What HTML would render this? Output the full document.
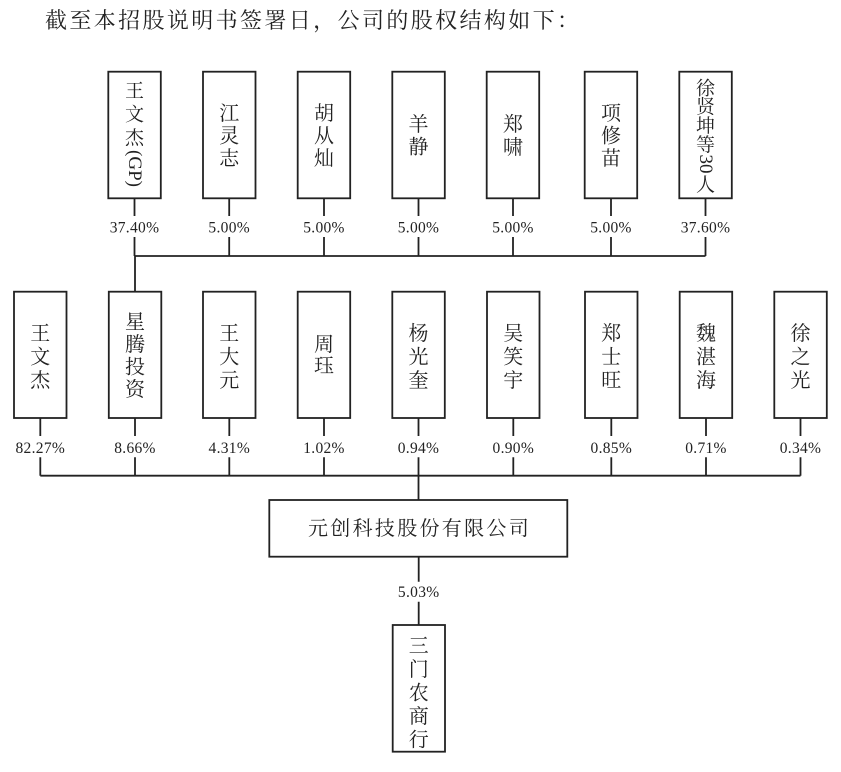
<!DOCTYPE html>
<html>
<head>
<meta charset="utf-8">
<style>
html,body{margin:0;padding:0;background:#fff;}
svg{display:block;}
.h{font-family:"Liberation Serif","Noto Serif CJK SC",serif;font-size:22px;fill:#222;}
.c{font-family:"Liberation Serif","Noto Serif CJK SC",serif;font-size:20px;fill:#222;text-anchor:middle;}
.s{font-family:"Liberation Serif","Noto Serif CJK SC",serif;font-size:19px;fill:#222;text-anchor:middle;}
.p{font-family:"Liberation Serif",serif;font-size:15.5px;fill:#222;text-anchor:middle;letter-spacing:0.3px;}
.r{font-family:"Liberation Serif",serif;font-size:19px;fill:#222;text-anchor:middle;dominant-baseline:central;}
</style>
</head>
<body>
<svg width="841" height="772" viewBox="0 0 841 772" xmlns="http://www.w3.org/2000/svg">
<text class="h" x="45" y="28" textLength="534" lengthAdjust="spacing">截至本招股说明书签署日，公司的股权结构如下：</text>

<g fill="none" stroke="#222" stroke-width="1.8">
<rect x="108.3" y="71.7" width="52.5" height="126.6"/>
<rect x="203" y="71.7" width="52.5" height="126.6"/>
<rect x="297.7" y="71.7" width="52.5" height="126.6"/>
<rect x="392.3" y="71.7" width="52.5" height="126.6"/>
<rect x="486.7" y="71.7" width="52.5" height="126.6"/>
<rect x="584.7" y="71.7" width="52.5" height="126.6"/>
<rect x="679.3" y="71.7" width="52.5" height="126.6"/>
<path d="M134.5 198.3V216M134.5 237V256M229.2 198.3V216M229.2 237V256M324 198.3V216M324 237V256M418.5 198.3V216M418.5 237V256M513 198.3V216M513 237V256M611 198.3V216M611 237V256M705.5 198.3V216M705.5 237V256"/>
<path d="M134.5 256H705.5M135 256V291.7"/>
<rect x="14" y="291.7" width="52.5" height="126.3"/>
<rect x="108.8" y="291.7" width="52.5" height="126.3"/>
<rect x="203" y="291.7" width="52.5" height="126.3"/>
<rect x="297.7" y="291.7" width="52.5" height="126.3"/>
<rect x="392.3" y="291.7" width="52.5" height="126.3"/>
<rect x="487" y="291.7" width="52.5" height="126.3"/>
<rect x="585" y="291.7" width="52.5" height="126.3"/>
<rect x="679.7" y="291.7" width="52.5" height="126.3"/>
<rect x="774.3" y="291.7" width="52.5" height="126.3"/>
<path d="M40.3 418V436M40.3 457.3V475.7M135 418V436M135 457.3V475.7M229.3 418V436M229.3 457.3V475.7M324 418V436M324 457.3V475.7M418.5 418V436M418.5 457.3V475.7M513.3 418V436M513.3 457.3V475.7M611.3 418V436M611.3 457.3V475.7M706 418V436M706 457.3V475.7M800.5 418V436M800.5 457.3V475.7"/>
<path d="M40.3 475.7H800.5M418.5 475.7V500"/>
<rect x="269.3" y="500" width="298" height="56.7"/>
<path d="M418.7 556.7V581.7M418.7 601.7V625"/>
<rect x="392.7" y="625" width="52.3" height="126.7"/>
</g>

<text class="s" x="134.5" y="97.2">王</text>
<text class="s" x="134.5" y="120.5">文</text>
<text class="s" x="134.5" y="143.9">杰</text>
<text class="r" transform="translate(134.5,168.5) rotate(90)">(GP)</text>

<text class="c" x="229.2" y="120.1">江</text>
<text class="c" x="229.2" y="142.6">灵</text>
<text class="c" x="229.2" y="165.1">志</text>

<text class="c" x="324" y="120.1">胡</text>
<text class="c" x="324" y="142.6">从</text>
<text class="c" x="324" y="165.1">灿</text>

<text class="c" x="418.5" y="131.1">羊</text>
<text class="c" x="418.5" y="153.6">静</text>

<text class="c" x="513" y="131.1">郑</text>
<text class="c" x="513" y="154.1">啸</text>

<text class="c" x="611" y="120.1">项</text>
<text class="c" x="611" y="142.6">修</text>
<text class="c" x="611" y="165.1">苗</text>

<text class="s" x="705.5" y="94.7">徐</text>
<text class="s" x="705.5" y="113.2">贤</text>
<text class="s" x="705.5" y="132.2">坤</text>
<text class="s" x="705.5" y="151.2">等</text>
<text class="r" transform="translate(705.5,164) rotate(90)">30</text>
<text class="s" x="705.5" y="191.2">人</text>

<text class="p" x="134.5" y="232.5">37.40%</text>
<text class="p" x="229.2" y="232.5">5.00%</text>
<text class="p" x="324" y="232.5">5.00%</text>
<text class="p" x="418.5" y="232.5">5.00%</text>
<text class="p" x="513" y="232.5">5.00%</text>
<text class="p" x="611" y="232.5">5.00%</text>
<text class="p" x="705.5" y="232.5">37.60%</text>

<text class="c" x="40.3" y="340.1">王</text>
<text class="c" x="40.3" y="363.4">文</text>
<text class="c" x="40.3" y="386.8">杰</text>

<text class="c" x="135" y="328.6">星</text>
<text class="c" x="135" y="351.1">腾</text>
<text class="c" x="135" y="373.6">投</text>
<text class="c" x="135" y="396.1">资</text>

<text class="c" x="229.3" y="340.1">王</text>
<text class="c" x="229.3" y="363.4">大</text>
<text class="c" x="229.3" y="386.8">元</text>

<text class="c" x="324" y="350.9">周</text>
<text class="c" x="324" y="372.6">珏</text>

<text class="c" x="418.5" y="340.1">杨</text>
<text class="c" x="418.5" y="363.4">光</text>
<text class="c" x="418.5" y="386.8">奎</text>

<text class="c" x="513.3" y="340.1">吴</text>
<text class="c" x="513.3" y="363.4">笑</text>
<text class="c" x="513.3" y="386.8">宇</text>

<text class="c" x="611.3" y="340.1">郑</text>
<text class="c" x="611.3" y="363.4">士</text>
<text class="c" x="611.3" y="386.8">旺</text>

<text class="c" x="706" y="340.1">魏</text>
<text class="c" x="706" y="363.4">湛</text>
<text class="c" x="706" y="386.8">海</text>

<text class="c" x="800.5" y="340.1">徐</text>
<text class="c" x="800.5" y="363.4">之</text>
<text class="c" x="800.5" y="386.8">光</text>

<text class="p" x="40.3" y="452.8">82.27%</text>
<text class="p" x="135" y="452.8">8.66%</text>
<text class="p" x="229.3" y="452.8">4.31%</text>
<text class="p" x="324" y="452.8">1.02%</text>
<text class="p" x="418.5" y="452.8">0.94%</text>
<text class="p" x="513.3" y="452.8">0.90%</text>
<text class="p" x="611.3" y="452.8">0.85%</text>
<text class="p" x="706" y="452.8">0.71%</text>
<text class="p" x="800.5" y="452.8">0.34%</text>

<text class="c" x="318" y="535.1">元</text>
<text class="c" x="340.3" y="535.1">创</text>
<text class="c" x="362.6" y="535.1">科</text>
<text class="c" x="384.9" y="535.1">技</text>
<text class="c" x="407.2" y="535.1">股</text>
<text class="c" x="429.5" y="535.1">份</text>
<text class="c" x="451.8" y="535.1">有</text>
<text class="c" x="474.1" y="535.1">限</text>
<text class="c" x="496.4" y="535.1">公</text>
<text class="c" x="518.7" y="535.1">司</text>

<text class="p" x="418.7" y="597">5.03%</text>

<text class="c" x="418.8" y="652.6">三</text>
<text class="c" x="418.8" y="676.1">门</text>
<text class="c" x="418.8" y="699.6">农</text>
<text class="c" x="418.8" y="723.1">商</text>
<text class="c" x="418.8" y="746.6">行</text>
</svg>
</body>
</html>
